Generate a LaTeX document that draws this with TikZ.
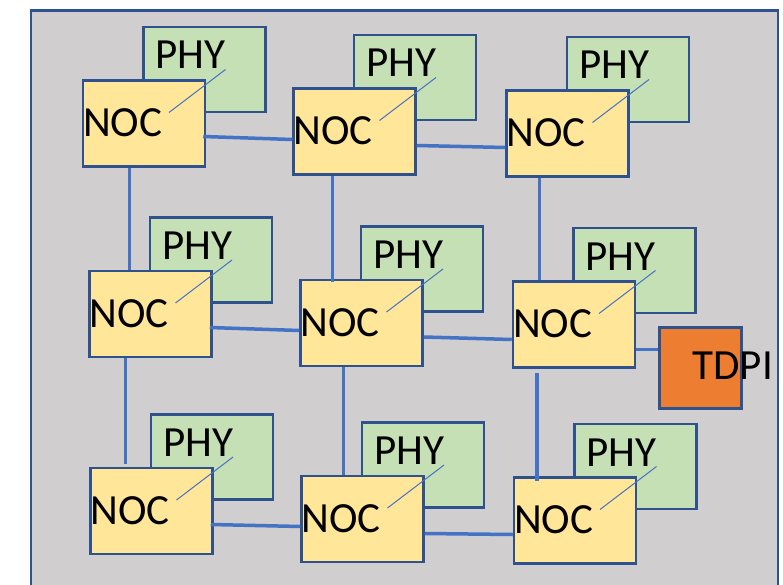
\documentclass[tikz,border=0pt]{standalone}
\usepackage{fontspec}
\setmainfont{Carlito}
\usepackage{xcolor}
\usepackage{tikz}
\usetikzlibrary{positioning}
\definecolor{bgFill}{HTML}{D0CECE}
\definecolor{boxBorder}{HTML}{2F528F}
\definecolor{nocFill}{HTML}{FFE699}
\definecolor{phyFill}{HTML}{C5E0B4}
\definecolor{tdpiFill}{HTML}{ED7D31}
\definecolor{linkBlue}{HTML}{4472C4}
\newcommand{\labelfont}{\fontsize{43}{51}\selectfont}

\begin{document}
\begin{tikzpicture}[
  x=1pt, y=-1pt,
  noc/.style={rectangle, draw=boxBorder, line width=2.5pt, fill=nocFill, inner xsep=0pt, inner ysep=0pt, text width=122pt, align=left, text height=56pt, text depth=30pt, font=\labelfont},
  phy/.style={rectangle, draw=boxBorder, line width=2.5pt, fill=phyFill, inner xsep=12pt, inner ysep=0pt, text width=98pt, align=left, text height=42pt, text depth=43pt, font=\labelfont},
  tdpiBox/.style={rectangle, draw=boxBorder, line width=2.5pt, fill=tdpiFill, minimum width=82pt, minimum height=81pt, inner sep=0pt},
  link/.style={draw=linkBlue, line width=3.5pt},
  tie/.style={draw=linkBlue, line width=1pt}
]
  \useasboundingbox (0,0) rectangle (783,585);
  % Chip outline
  \draw [fill=bgFill, draw=boxBorder, line width=2.5pt] (31,10.5) rectangle (778,600);

  % Nodes
  \node (p1) [phy] at (204.5,69.5) {PHY};
  \node (n1) [noc, below left=-34pt and -64pt of p1] {NOC};
  \node (p2) [phy] at (415,77.5) {PHY};
  \node (n2) [noc, below left=-34pt and -64pt of p2] {NOC};
  \node (p3) [phy] at (628,79.5) {PHY};
  \node (n3) [noc, below left=-34pt and -64pt of p3] {NOC};

  \node (p4) [phy] at (211,260) {PHY};
  \node (n4) [noc, below left=-34pt and -64pt of p4] {NOC};
  \node (p5) [phy] at (422,269) {PHY};
  \node (n5) [noc, below left=-34pt and -64pt of p5] {NOC};
  \node (p6) [phy] at (634.5,270.5) {PHY};
  \node (n6) [noc, below left=-34pt and -64pt of p6] {NOC};

  \node (p7) [phy] at (212,457) {PHY};
  \node (n7) [noc, below left=-34pt and -64pt of p7] {NOC};
  \node (p8) [phy] at (423,465) {PHY};
  \node (n8) [noc, below left=-34pt and -64pt of p8] {NOC};
  \node (p9) [phy] at (635.5,466.5) {PHY};
  \node (n9) [noc, below left=-34pt and -64pt of p9] {NOC};

  \node (tdpi) [tdpiBox, right=22pt of n6, yshift=-43.5pt] {};
  \node (tdpiLabel) [anchor=base west, inner sep=0pt, font=\labelfont] at ([shift={(34,11.5)}]tdpi.west) {TDPI};

  % NOC to PHY ties
  \draw [tie] ([shift={(25,-11)}]n1.center) -- ([shift={(21,0)}]p1.center);
  \draw [tie] ([shift={(25,-11)}]n2.center) -- ([shift={(21,0)}]p2.center);
  \draw [tie] ([shift={(25,-11)}]n3.center) -- ([shift={(21,0)}]p3.center);
  \draw [tie] ([shift={(25,-11)}]n4.center) -- ([shift={(21,0)}]p4.center);
  \draw [tie] ([shift={(25,-11)}]n5.center) -- ([shift={(21,0)}]p5.center);
  \draw [tie] ([shift={(25,-11)}]n6.center) -- ([shift={(21,0)}]p6.center);
  \draw [tie] ([shift={(25,-11)}]n7.center) -- ([shift={(21,0)}]p7.center);
  \draw [tie] ([shift={(25,-11)}]n8.center) -- ([shift={(21,0)}]p8.center);
  \draw [tie] ([shift={(25,-11)}]n9.center) -- ([shift={(21,0)}]p9.center);

  % Mesh links
  \draw [link] ([shift={(-3,13)}]n1.east) -- ([shift={(0,8)}]n2.west);
  \draw [link] ([shift={(0,14)}]n2.east) -- ([shift={(0,14)}]n3.west);
  \draw [link] ([shift={(-3,13.5)}]n4.east) -- ([shift={(0,7.5)}]n5.west);
  \draw [link] ([shift={(0,14)}]n5.east) -- ([shift={(0,15)}]n6.west);
  \draw [link] ([shift={(-3,13.5)}]n7.east) -- ([shift={(0,7.5)}]n8.west);
  \draw [link] ([shift={(0,14.5)}]n8.east) -- ([shift={(0,14)}]n9.west);

  \draw [link] ([shift={(-14.5,0)}]n1.south) -- ([shift={(-21,0)}]n4.north);
  \draw [link] ([shift={(-22,0)}]n2.south) -- ([shift={(-29,3)}]n5.north);
  \draw [link] ([shift={(-28,0)}]n3.south) -- ([shift={(-34.5,0)}]n6.north);
  \draw [link] ([shift={(-25,0)}]n4.south) -- ([shift={(-26,-3)}]n7.north);
  \draw [link] ([shift={(-18,0)}]n5.south) -- ([shift={(-19,0)}]n8.north);
  \draw [link] ([shift={(-37,4)}]n6.south) -- ([shift={(-38,5)}]n9.north);

  \draw [link] ([shift={(0,25)}]n6.east) -- ([shift={(0,-18.5)}]tdpi.west);
\end{tikzpicture}
\end{document}
